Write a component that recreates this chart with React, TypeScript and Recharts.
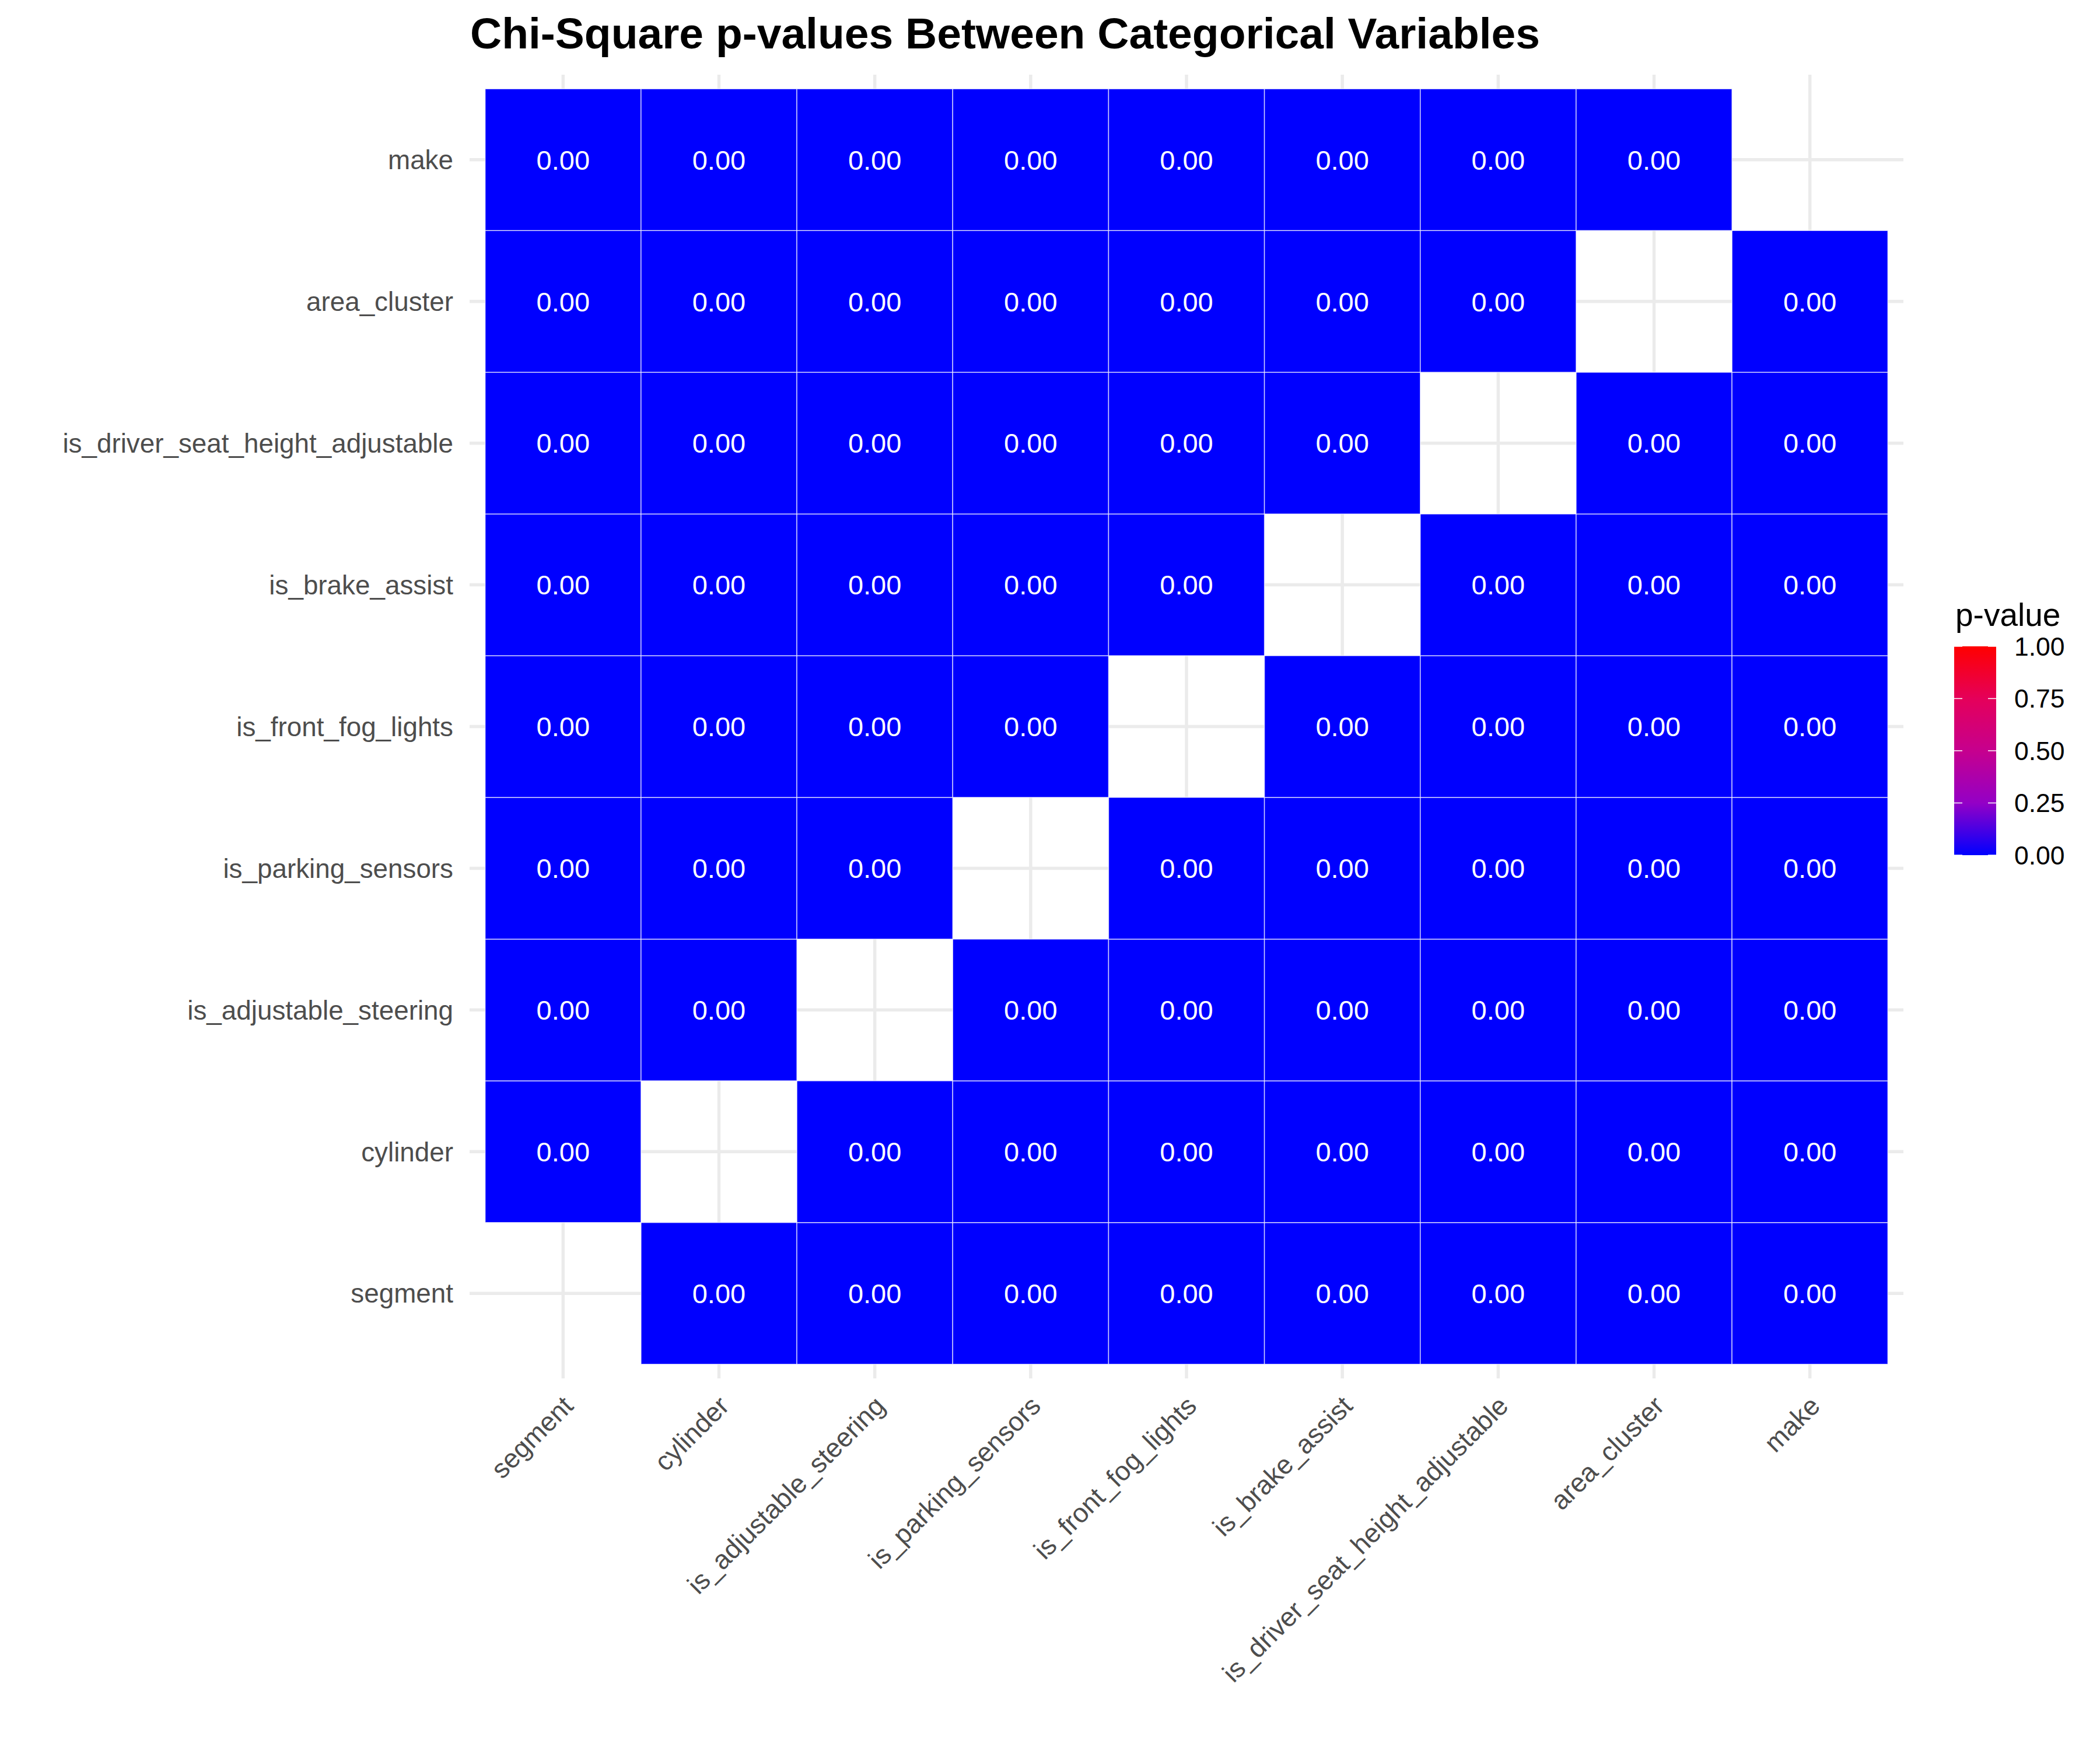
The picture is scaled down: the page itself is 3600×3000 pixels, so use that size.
import React from 'react';
import { ScatterChart, Scatter, XAxis, YAxis, CartesianGrid } from 'recharts';

const FONT = '"Liberation Sans", Arial, Helvetica, sans-serif';

// same order on both axes: left to right, bottom to top
const VARIABLES = [
    'segment',
    'cylinder',
    'is_adjustable_steering',
    'is_parking_sensors',
    'is_front_fog_lights',
    'is_brake_assist',
    'is_driver_seat_height_adjustable',
    'area_cluster',
    'make',
];

// P_VALUES[row][col], row = y variable, col = x variable; null = not tested (diagonal)
const P_VALUES: (number | null)[][] = [
    [null, 0, 0, 0, 0, 0, 0, 0, 0],
    [0, null, 0, 0, 0, 0, 0, 0, 0],
    [0, 0, null, 0, 0, 0, 0, 0, 0],
    [0, 0, 0, null, 0, 0, 0, 0, 0],
    [0, 0, 0, 0, null, 0, 0, 0, 0],
    [0, 0, 0, 0, 0, null, 0, 0, 0],
    [0, 0, 0, 0, 0, 0, null, 0, 0],
    [0, 0, 0, 0, 0, 0, 0, null, 0],
    [0, 0, 0, 0, 0, 0, 0, 0, null],
];

const LEGEND_TICKS = [0, 0.25, 0.5, 0.75, 1];
const GRADIENT_STOPS = [
    { at: 0, color: '#0000FF' },
    { at: 0.25, color: '#9400C6' },
    { at: 0.5, color: '#C6008E' },
    { at: 0.75, color: '#E5005A' },
    { at: 1, color: '#FF0000' },
];

const W = 3600;
const H = 3000;
const PLOT_LEFT = 805;
const PLOT_RIGHT = 3263;
const PLOT_TOP = 128;
const PLOT_BOTTOM = 2363;
const DOMAIN: [number, number] = [0.4, 9.6];
const CELL_W = (PLOT_RIGHT - PLOT_LEFT) / (DOMAIN[1] - DOMAIN[0]);
const CELL_H = (PLOT_BOTTOM - PLOT_TOP) / (DOMAIN[1] - DOMAIN[0]);
const TICKS = VARIABLES.map((_, i) => i + 1);

const hex = (c: string) => [1, 3, 5].map((i) => parseInt(c.slice(i, i + 2), 16));

function colorFor(p: number) {
    for (let i = 1; i < GRADIENT_STOPS.length; i++) {
        const a = GRADIENT_STOPS[i - 1];
        const b = GRADIENT_STOPS[i];
        if (p <= b.at) {
            const t = (p - a.at) / (b.at - a.at);
            const ca = hex(a.color);
            const cb = hex(b.color);
            const mix = ca.map((v, k) => Math.round(v + (cb[k] - v) * t));
            return `rgb(${mix.join(',')})`;
        }
    }
    return GRADIENT_STOPS[GRADIENT_STOPS.length - 1].color;
}

const cells: { x: number; y: number; p: number }[] = [];
P_VALUES.forEach((row, r) =>
    row.forEach((p, c) => {
        if (p !== null) cells.push({ x: c + 1, y: r + 1, p });
    })
);

const Tile = (props: any) => {
    const { cx, cy, payload } = props;
    return (
        <g>
            <rect
                x={cx - CELL_W / 2}
                y={cy - CELL_H / 2}
                width={CELL_W}
                height={CELL_H}
                fill={colorFor(payload.p)}
                stroke="#ffffff"
                strokeOpacity={0.7}
                strokeWidth={1.5}
            />
            <text x={cx} y={cy} dy="0.358em" textAnchor="middle" fill="#ffffff" fontSize={47} fontFamily={FONT}>
                {payload.p.toFixed(2)}
            </text>
        </g>
    );
};

const XTick = (props: any) => {
    const { x, y, payload } = props;
    const tx = x + 20;
    const ty = y + 50;
    return (
        <text
            x={tx}
            y={ty}
            transform={`rotate(-45 ${tx} ${ty})`}
            textAnchor="end"
            fill="#4D4D4D"
            fontSize={45.8}
            fontFamily={FONT}
        >
            {VARIABLES[payload.value - 1]}
        </text>
    );
};

const BAR = { x: 3350, y: 1108, w: 72, h: 358 };

const ColorBar = () => (
    <g>
        <defs>
            <linearGradient id="pgrad" x1="0" y1="1" x2="0" y2="0">
                {GRADIENT_STOPS.map((s) => (
                    <stop key={s.at} offset={s.at} stopColor={s.color} />
                ))}
            </linearGradient>
        </defs>
        <text x={3352} y={1073} fontSize={55} fontFamily={FONT} fill="#000000">
            p-value
        </text>
        <rect x={BAR.x} y={BAR.y} width={BAR.w} height={BAR.h} fill="url(#pgrad)" />
        {LEGEND_TICKS.map((v) => {
            const ty = BAR.y + BAR.h - v * BAR.h;
            return (
                <g key={v}>
                    <line x1={BAR.x} x2={BAR.x + 14} y1={ty} y2={ty} stroke="#ffffff" strokeWidth={1.5} />
                    <line x1={BAR.x + BAR.w - 14} x2={BAR.x + BAR.w} y1={ty} y2={ty} stroke="#ffffff" strokeWidth={1.5} />
                    <text x={3453} y={ty} dy="0.358em" fontSize={44.5} fontFamily={FONT} fill="#000000">
                        {v.toFixed(2)}
                    </text>
                </g>
            );
        })}
    </g>
);

export default function App() {
    return (
        <div style={{ position: 'absolute', left: 0, top: 0, width: W, height: H, background: '#ffffff' }}>
            <ScatterChart
                width={W}
                height={H}
                margin={{ top: PLOT_TOP, right: W - PLOT_RIGHT, bottom: 0, left: 0 }}
            >
                <CartesianGrid stroke="#EBEBEB" strokeWidth={5.5} syncWithTicks />
                <XAxis
                    type="number"
                    dataKey="x"
                    domain={DOMAIN}
                    ticks={TICKS}
                    allowDataOverflow
                    interval={0}
                    height={H - PLOT_BOTTOM}
                    axisLine={false}
                    tickLine={false}
                    tickSize={0}
                    tickMargin={0}
                    tick={<XTick />}
                />
                <YAxis
                    type="number"
                    dataKey="y"
                    domain={DOMAIN}
                    ticks={TICKS}
                    allowDataOverflow
                    interval={0}
                    width={PLOT_LEFT}
                    axisLine={false}
                    tickLine={false}
                    tickSize={0}
                    tickMargin={28}
                    tickFormatter={(v: number) => VARIABLES[v - 1]}
                    tick={{ fill: '#4D4D4D', fontSize: 45.8, fontFamily: FONT }}
                />
                <Scatter data={cells} shape={<Tile />} isAnimationActive={false} />
            </ScatterChart>
            <svg
                width={W}
                height={H}
                style={{ position: 'absolute', left: 0, top: 0, pointerEvents: 'none' }}
            >
                <text x={806} y={83} fontSize={75} fontWeight="bold" fontFamily={FONT} fill="#000000">
                    Chi-Square p-values Between Categorical Variables
                </text>
                <ColorBar />
            </svg>
        </div>
    );
}
